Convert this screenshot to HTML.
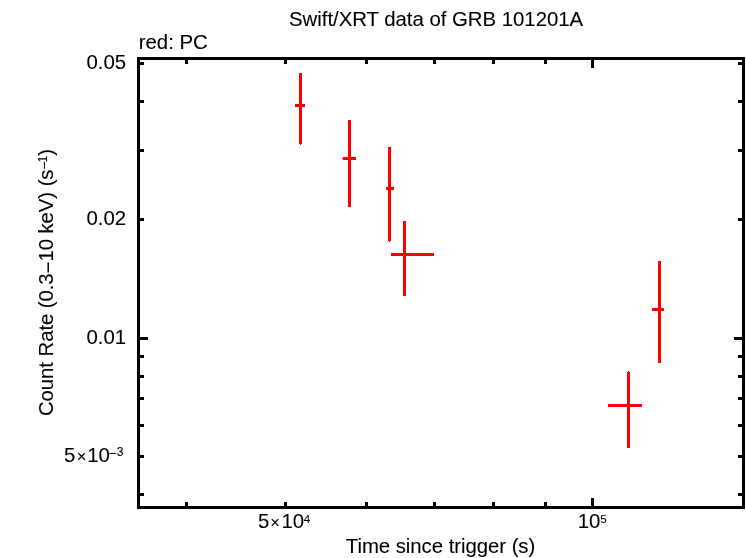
<!DOCTYPE html>
<html lang="en"><head><meta charset="utf-8"><title>Swift/XRT data of GRB 101201A</title>
<style>html,body{margin:0;padding:0;background:#fff;overflow:hidden}svg{display:block}</style></head>
<body>
<svg width="746" height="558" viewBox="0 0 746 558" style="display:block">
<rect width="746" height="558" fill="#fff"/>
<g fill="#000" shape-rendering="crispEdges">
<rect x="137" y="57" width="608" height="3"/>
<rect x="137" y="506" width="608" height="3"/>
<rect x="137" y="57" width="3" height="452"/>
<rect x="742" y="57" width="3" height="452"/>
<rect x="185" y="60" width="3" height="4"/>
<rect x="185" y="502" width="3" height="4"/>
<rect x="284" y="60" width="3" height="4"/>
<rect x="284" y="502" width="3" height="4"/>
<rect x="365" y="60" width="3" height="4"/>
<rect x="365" y="502" width="3" height="4"/>
<rect x="433" y="60" width="3" height="4"/>
<rect x="433" y="502" width="3" height="4"/>
<rect x="492" y="60" width="3" height="4"/>
<rect x="492" y="502" width="3" height="4"/>
<rect x="544" y="60" width="3" height="4"/>
<rect x="544" y="502" width="3" height="4"/>
<rect x="591" y="60" width="3" height="8"/>
<rect x="591" y="498" width="3" height="8"/>
<rect x="140" y="62" width="4" height="3"/>
<rect x="738" y="62" width="4" height="3"/>
<rect x="140" y="100" width="4" height="3"/>
<rect x="738" y="100" width="4" height="3"/>
<rect x="140" y="149" width="4" height="3"/>
<rect x="738" y="149" width="4" height="3"/>
<rect x="140" y="218" width="4" height="3"/>
<rect x="738" y="218" width="4" height="3"/>
<rect x="140" y="337" width="8" height="3"/>
<rect x="734" y="337" width="8" height="3"/>
<rect x="140" y="355" width="4" height="3"/>
<rect x="738" y="355" width="4" height="3"/>
<rect x="140" y="375" width="4" height="3"/>
<rect x="738" y="375" width="4" height="3"/>
<rect x="140" y="397" width="4" height="3"/>
<rect x="738" y="397" width="4" height="3"/>
<rect x="140" y="424" width="4" height="3"/>
<rect x="738" y="424" width="4" height="3"/>
<rect x="140" y="455" width="4" height="3"/>
<rect x="738" y="455" width="4" height="3"/>
<rect x="140" y="493" width="4" height="3"/>
<rect x="738" y="493" width="4" height="3"/>
</g>
<g fill="#f00" shape-rendering="crispEdges">
<rect x="299" y="73" width="3" height="71"/>
<rect x="295" y="104" width="10" height="3"/>
<rect x="348" y="120" width="3" height="87"/>
<rect x="343" y="157" width="13" height="3"/>
<rect x="388" y="147" width="3" height="94"/>
<rect x="386" y="187" width="8" height="3"/>
<rect x="403" y="221" width="3" height="75"/>
<rect x="391" y="253" width="43" height="3"/>
<rect x="627" y="372" width="3" height="76"/>
<rect x="608" y="404" width="34" height="3"/>
<rect x="658" y="261" width="3" height="102"/>
<rect x="652" y="308" width="12" height="3"/>
<rect x="300" y="144" width="1" height="1"/>
<rect x="389" y="241" width="1" height="1"/>
<rect x="628" y="371" width="1" height="1"/>
<rect x="342" y="158" width="1" height="1"/>
</g>
<g fill="#000" font-family="'Liberation Sans', sans-serif" font-size="20.4" stroke="#000" stroke-width="0.08">
<text x="289" y="25.7" textLength="294.2" lengthAdjust="spacing">Swift/XRT data of GRB 101201A</text>
<text x="138.7" y="48.8">red: PC</text>
<text x="345.8" y="552.6" textLength="189.5" lengthAdjust="spacing">Time since trigger (s)</text>
<text x="86.4" y="69.0">0.05</text>
<text x="86.4" y="225.1">0.02</text>
<text x="86.4" y="343.7">0.01</text>
<text x="64" y="461.8">5<tspan font-size="16.5" dx="1.3">×</tspan><tspan dx="0.9">10</tspan><tspan font-size="14" x="108.4" dy="-3.85">−</tspan><tspan font-size="12" x="116.8" dy="-2.05">3</tspan></text>
<text x="258" y="528.3">5<tspan font-size="16.5" dx="0.8">×</tspan><tspan dx="1.6">10</tspan><tspan font-size="11.6" dy="-5.3" dx="-0.2">4</tspan></text>
<text x="577.7" y="528.3">10<tspan font-size="11.6" dy="-5.3" dx="-0.2">5</tspan></text>
<text transform="translate(52.9,416.0) rotate(-90)" font-size="20.4" textLength="267" lengthAdjust="spacing">Count Rate (0.3<tspan dy="2.2">−</tspan><tspan dy="-2.2">10</tspan> keV) (s<tspan font-size="13.8" dy="-4.0">−</tspan><tspan font-size="12.2" dy="-2.3" dx="-0.9">1</tspan><tspan dy="6.3">)</tspan></text>
</g>
</svg>
</body></html>
